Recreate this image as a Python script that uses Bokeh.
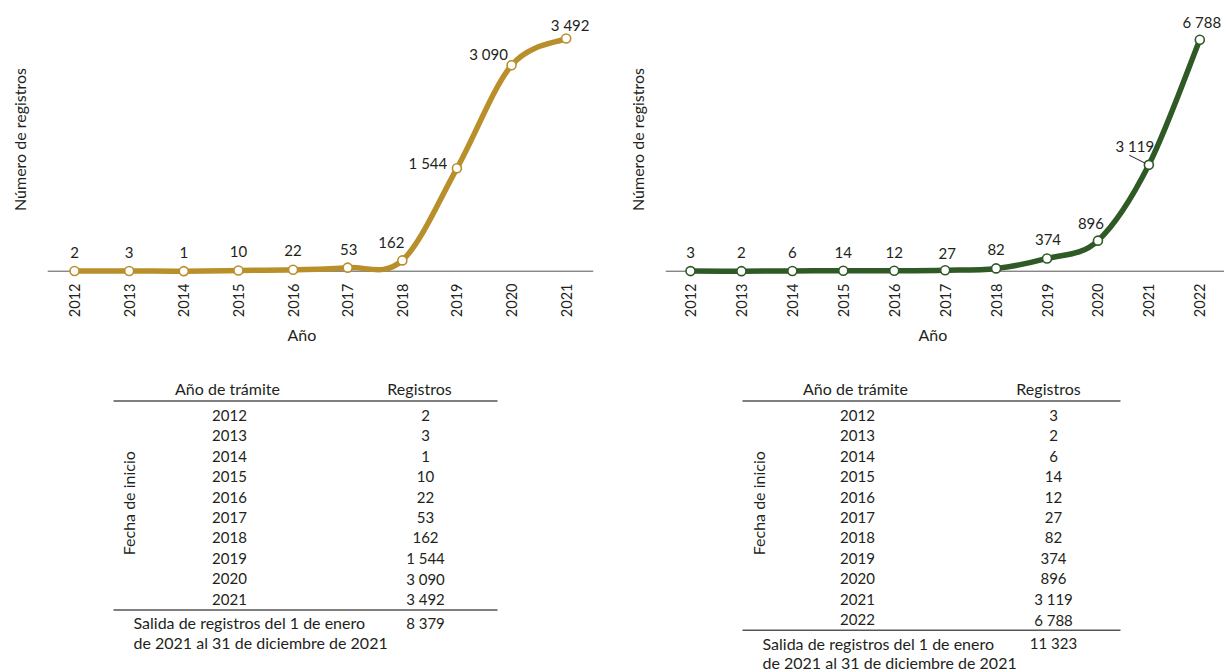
import math
from bokeh.plotting import figure
from bokeh.layouts import row, column
from bokeh.models import Range1d, FixedTicker, Span, ColumnDataSource, Title
from bokeh.core.properties import value
from bokeh.embed import file_html
from bokeh.resources import INLINE

# ---------------- data ----------------
years_a = [2012, 2013, 2014, 2015, 2016, 2017, 2018, 2019, 2020, 2021]
regs_a = [2, 3, 1, 10, 22, 53, 162, 1544, 3090, 3492]
total_a = 8379

years_b = [2012, 2013, 2014, 2015, 2016, 2017, 2018, 2019, 2020, 2021, 2022]
regs_b = [3, 2, 6, 14, 12, 27, 82, 374, 896, 3119, 6788]
total_b = 11323

y_label = "Número de registros"
x_label = "Año"
head_year = "Año de trámite"
head_regs = "Registros"
side_label = "Fecha de inicio"
foot_1 = "Salida de registros del 1 de enero"
foot_2 = "de 2021 al 31 de diciembre de 2021"

# ---------------- style ----------------
GOLD = "#B98F2C"
GREEN = "#2F5A25"
TXT = "#231F20"
AXC = "#555555"
FONT = "Lato"
WORD_SIZE = "16px"
NUM_SIZE = "15px"

# value-label pixel offsets (styling only)
lab_dx_a = [0, 0, 0, 0, 0, 1, -11, -29, -23, 4]
lab_dy_a = [-19, -19, -19, -19, -19, -18, -18, -5, -11, -13]
lab_dx_b = [0, 0, 0, 0, 0, 2, 0, 1, -7, -14, 2]
lab_dy_b = [-18.5, -18.5, -18.5, -18.5, -18.5, -17, -18.5, -18.5, -17.5, -18.5, -17.5]


def fmt(n):
    return f"{n:,}".replace(",", " ")


def catmull_bezier(xs, ys):
    n = len(xs)
    d = dict(x0=[], y0=[], x1=[], y1=[], cx0=[], cy0=[], cx1=[], cy1=[])
    for i in range(n - 1):
        xp, yp = (xs[i - 1], ys[i - 1]) if i > 0 else (xs[i], ys[i])
        xn, yn = (xs[i + 2], ys[i + 2]) if i + 2 < n else (xs[i + 1], ys[i + 1])
        d["x0"].append(xs[i]); d["y0"].append(ys[i])
        d["x1"].append(xs[i + 1]); d["y1"].append(ys[i + 1])
        d["cx0"].append(xs[i] + (xs[i + 1] - xp) / 6.0)
        d["cy0"].append(ys[i] + (ys[i + 1] - yp) / 6.0)
        d["cx1"].append(xs[i + 1] - (xn - xs[i]) / 6.0)
        d["cy1"].append(ys[i + 1] - (yn - ys[i]) / 6.0)
    return d


CH_W, CH_H = 612, 352
TB_W, TB_H = 612, 320
FRAME_BOTTOM = 278


def make_chart(years, regs, color, xr, yr, left, right, dx, dy, xlab_off, leader_idx=None):
    p = figure(width=CH_W, height=CH_H, x_range=Range1d(*xr), y_range=Range1d(*yr),
               output_backend="svg", toolbar_location=None,
               min_border_left=left, min_border_right=right,
               min_border_top=0, min_border_bottom=CH_H - FRAME_BOTTOM)
    p.outline_line_color = None
    p.grid.visible = False
    p.background_fill_color = "white"
    p.border_fill_color = "white"

    # x axis
    xa = p.xaxis[0]
    xa.ticker = FixedTicker(ticks=years)
    xa.major_label_overrides = {y: str(y) for y in years}
    xa.major_label_orientation = math.pi / 2
    xa.axis_line_color = None
    xa.major_tick_line_color = None
    xa.minor_tick_line_color = None
    xa.major_tick_out = 0
    xa.major_tick_in = 0
    xa.major_label_standoff = 5
    xa.major_label_text_font = FONT
    xa.major_label_text_font_size = "14.5px"
    xa.major_label_text_color = TXT

    # x-axis title, below the tick labels
    p.add_layout(Title(text=x_label, align="left", offset=xlab_off, standoff=5,
                       text_font=FONT, text_font_size=WORD_SIZE, text_font_style="normal",
                       text_color=TXT), "below")

    # y axis: label only
    ya = p.yaxis[0]
    ya.ticker = FixedTicker(ticks=[])
    ya.axis_line_color = None
    ya.major_tick_line_color = None
    ya.minor_tick_line_color = None
    ya.major_tick_out = 0
    ya.major_tick_in = 0
    ya.axis_label = y_label
    ya.axis_label_text_font = FONT
    ya.axis_label_text_font_size = WORD_SIZE
    ya.axis_label_text_font_style = "normal"
    ya.axis_label_text_color = TXT
    ya.axis_label_standoff = 19

    p.add_layout(Span(location=0, dimension="width", line_color=AXC, line_width=1, level="underlay"))

    bz = catmull_bezier(years, regs)
    p.bezier(source=ColumnDataSource(bz), x0="x0", y0="y0", x1="x1", y1="y1",
             cx0="cx0", cy0="cy0", cx1="cx1", cy1="cy1",
             line_color=color, line_width=5.5, line_cap="round")
    p.scatter(years, regs, size=9, marker="circle", fill_color="white",
              line_color=color, line_width=1.6)

    src = ColumnDataSource(dict(x=years, y=regs, t=[fmt(v) for v in regs], dx=dx, dy=dy))
    p.text(x="x", y="y", text="t", x_offset="dx", y_offset="dy", source=src,
           text_align="center", text_baseline="middle",
           text_font=value(FONT), text_font_size=NUM_SIZE, text_color=TXT)

    if leader_idx is not None:
        fw = CH_W - left - right
        xpp = (xr[1] - xr[0]) / fw
        ypp = (yr[1] - yr[0]) / FRAME_BOTTOM
        xi, yi = years[leader_idx], regs[leader_idx]
        p.segment(x0=[xi - 19.7 * xpp], y0=[yi + 9.7 * ypp],
                  x1=[xi - 3.7 * xpp], y1=[yi + 1.7 * ypp],
                  line_color=TXT, line_width=1)
    return p


def make_table(years, regs, total, c, left, right):
    n = len(years)
    top_px, step = 63.0, 20.4
    yr = ((TB_H - top_px) / step, -top_px / step)
    t = figure(width=TB_W, height=TB_H, x_range=Range1d(left, TB_W - right), y_range=Range1d(*yr),
               x_axis_location=None, y_axis_location=None,
               min_border_left=left, min_border_right=right, min_border_top=0, min_border_bottom=0,
               output_backend="svg", toolbar_location=None)
    t.outline_line_color = None
    t.grid.visible = False
    num = dict(text_font=value(FONT), text_font_size=NUM_SIZE, text_color=TXT,
               text_baseline="middle")
    word = dict(text_font=value(FONT), text_font_size=WORD_SIZE, text_color=TXT,
                text_baseline="middle")
    rows = list(range(n))
    t.text(x=[c["year"]] * n, y=rows, text=[str(y) for y in years], text_align="center", **num)
    t.text(x=[c["val"]] * n, y=rows, text=[fmt(v) for v in regs], text_align="center", **num)
    t.text(x=[c["hyear"], c["hval"]], y=[-1.32, -1.32], text=[head_year, head_regs],
           text_align="center", **word)
    t.segment(x0=[c["l0"], c["l0"]], x1=[c["l1"], c["l1"]], y0=[-0.71, n - 0.47],
              y1=[-0.71, n - 0.47], line_color=AXC, line_width=1.5)
    t.text(x=[c["foot"], c["foot"]], y=[n + 0.17, n + 1.12], text=[foot_1, foot_2],
           text_align="left", **word)
    t.text(x=[c["val"]], y=[n + 0.17], text=[fmt(total)], text_align="center", **num)
    t.text(x=[c["side"]], y=[4.3], text=[side_label], angle=math.pi / 2,
           text_align="center", **word)
    return t


chart_a = make_chart(years_a, regs_a, GOLD, (2011.505, 2021.5), (-109.5, 4062),
                     47, 19, lab_dx_a, lab_dy_a, xlab_off=240)
chart_b = make_chart(years_b, regs_b, GREEN, (2011.509, 2022.485), (-214, 7940),
                     53, 0, lab_dx_b, lab_dy_b, xlab_off=253, leader_idx=9)

table_a = make_table(years_a, regs_a, total_a,
                     dict(year=229, val=425, hyear=227, hval=419, l0=113, l1=497,
                          foot=133, side=128), 47, 19)
table_b = make_table(years_b, regs_b, total_b,
                     dict(year=245, val=441, hyear=243, hval=436, l0=130, l1=508,
                          foot=150, side=146), 53, 0)

layout = row(column(chart_a, table_a, spacing=0), column(chart_b, table_b, spacing=0), spacing=0)

with open("out.html", "w") as f:
    f.write(file_html(layout, INLINE))
